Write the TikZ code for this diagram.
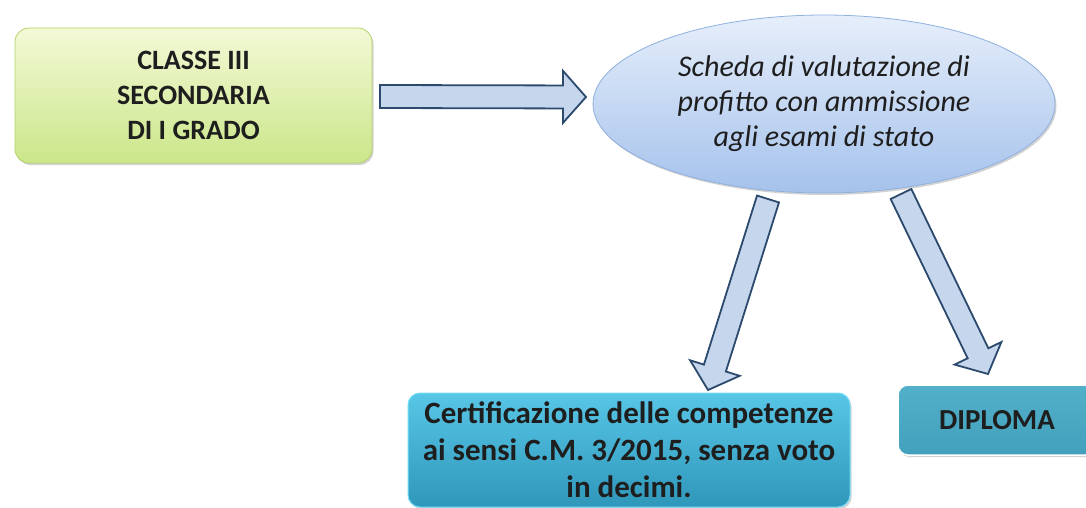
\documentclass[tikz,border=0pt]{standalone}
\usepackage{fontspec}
\setmainfont{Carlito}
\usetikzlibrary{calc,shadows,shapes.geometric}
\definecolor{arrowfill}{HTML}{C6D6EC}
\definecolor{arrowline}{HTML}{2C4A6E}
\definecolor{greentop}{HTML}{F3F9D6}
\definecolor{greenbot}{HTML}{CBE68A}
\definecolor{greenline}{HTML}{B5D36C}
\definecolor{elltop}{HTML}{E6EEFA}
\definecolor{ellbot}{HTML}{A5C2EC}
\definecolor{ellline}{HTML}{8FB0DF}
\definecolor{certtop}{HTML}{58C6E6}
\definecolor{certbot}{HTML}{2F97BA}
\definecolor{certline}{HTML}{72DDF8}
\definecolor{dipltop}{HTML}{52B0CA}
\definecolor{diplbot}{HTML}{42A0BC}
\definecolor{txt}{HTML}{1E1E1E}
\tikzset{
  x=1pt, y=-1pt,
  softshadow/.style={drop shadow={shadow xshift=1.5pt, shadow yshift=-2pt, opacity=0.35, fill=gray}},
  greenbox/.style={rectangle, rounded corners=14pt, draw=greenline, line width=0.8pt,
    top color=greentop, bottom color=greenbot, minimum width=357pt, minimum height=135pt,
    inner sep=0pt, align=center, font=\bfseries\fontsize{28}{35}\selectfont, text=txt, softshadow},
  ellbox/.style={ellipse, draw=ellline, line width=0.8pt, top color=elltop, bottom color=ellbot,
    minimum width=462pt, minimum height=178pt, inner sep=0pt, align=center,
    font=\itshape\fontsize{30}{35}\selectfont, text=txt, softshadow},
  certbox/.style={rectangle, rounded corners=12pt, draw=certline, line width=1pt,
    top color=certtop, bottom color=certbot, minimum width=442pt, minimum height=114pt,
    inner sep=0pt, align=center, font=\bfseries\fontsize{31}{37}\selectfont, text=txt, softshadow},
  diplbox/.style={rectangle, rounded corners=10pt, draw=white, line width=1.5pt,
    top color=dipltop, bottom color=diplbot, minimum width=198pt, minimum height=70pt,
    inner sep=0pt, align=center, font=\bfseries\fontsize{29}{30}\selectfont, text=txt, softshadow},
  blockarrow/.style={draw=arrowline, fill=arrowfill, line width=1.8pt, line join=miter,
    to path={
      ($(\tikztostart)!11.5pt!90:(\tikztotarget)$) --
      ($(\tikztotarget)!23pt!(\tikztostart)!11.5pt!90:(\tikztotarget)$) --
      ($(\tikztotarget)!23pt!(\tikztostart)!26pt!90:(\tikztotarget)$) --
      (\tikztotarget) --
      ($(\tikztotarget)!23pt!(\tikztostart)!26pt!-90:(\tikztotarget)$) --
      ($(\tikztotarget)!23pt!(\tikztostart)!11.5pt!-90:(\tikztotarget)$) --
      ($(\tikztostart)!11.5pt!-90:(\tikztotarget)$) -- cycle
    }}
}
\begin{document}
\begin{tikzpicture}
\fill[white] (0,0) rectangle (1086,508);
\useasboundingbox (0,0) rectangle (1086,508);

\node[greenbox] (classe) at (193.5,95.5) {CLASSE III\\SECONDARIA\\DI I GRADO};
\node[ellbox] (scheda) at (824,104) {Scheda di valutazione di\\profitto con ammissione\\agli esami di stato};
\node[certbox] (cert) at (629,450) {Certificazione delle competenze\\ai sensi C.M. 3/2015, senza voto\\in decimi.};
\node[diplbox] (dipl) at (997,420) {DIPLOMA};

\coordinate (a1s) at (380,96.5);
\coordinate (a1t) at (586,97);
\coordinate (a2s) at (768,199);
\coordinate (a2t) at (708,390);
\coordinate (a3s) at (901,194);
\coordinate (a3t) at (988,374);

\draw[blockarrow] (a1s) to (a1t);
\draw[blockarrow] (a2s) to (a2t);
\draw[blockarrow] (a3s) to (a3t);
\end{tikzpicture}
\end{document}
